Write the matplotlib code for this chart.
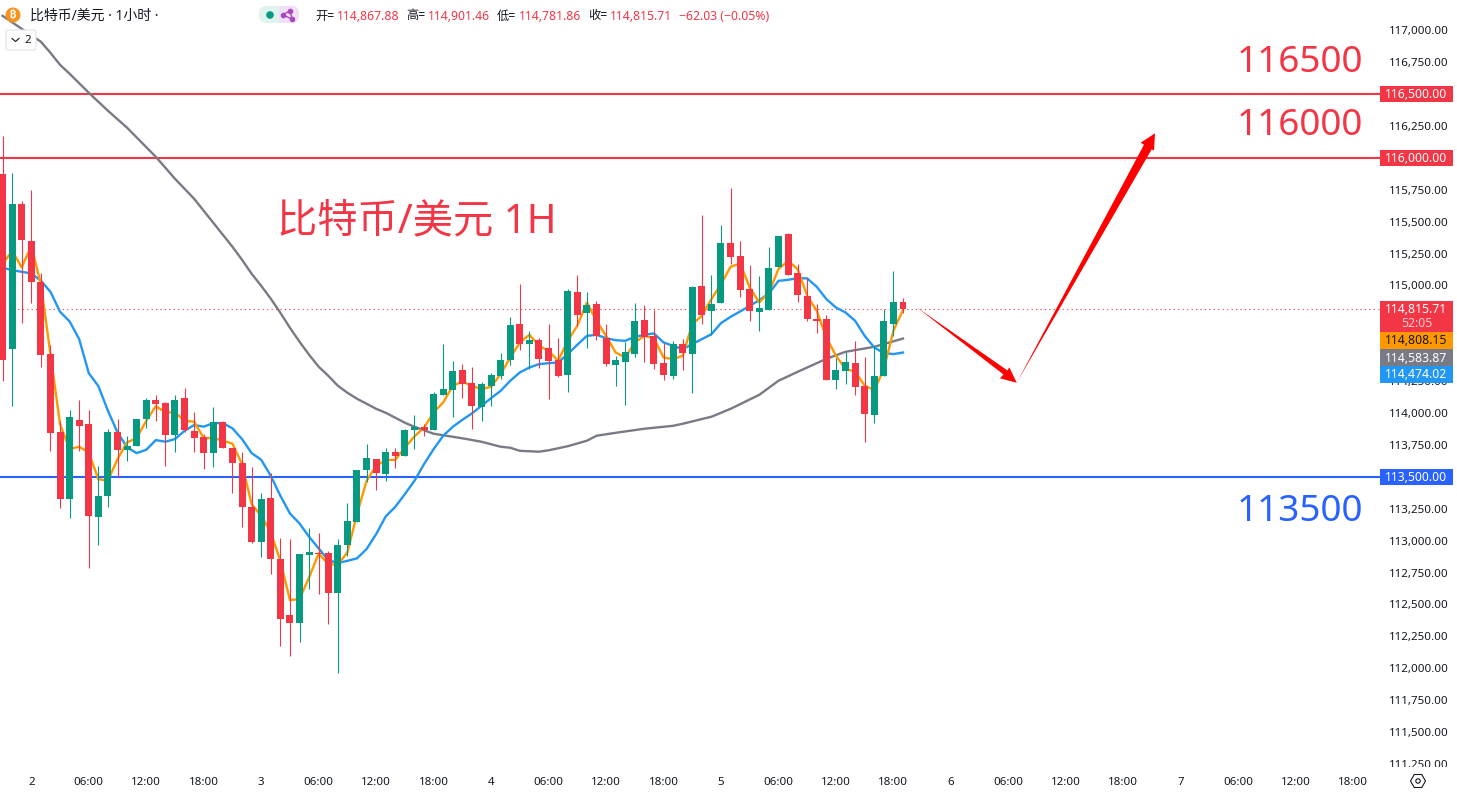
import numpy as np
import matplotlib
matplotlib.use("Agg")
import matplotlib.pyplot as plt
from matplotlib.patches import Rectangle, Polygon, Circle, FancyBboxPatch, RegularPolygon
from matplotlib.transforms import Bbox

plt.rcParams['font.family'] = ['Noto Sans', 'Noto Sans CJK SC', 'DejaVu Sans']

# hours counted from the 2nd 00:00, one candle per hour
hours = list(range(-3, 92))

opens = [115875, 114498, 115640, 115350, 115029, 114465, 113853, 113323, 113947, 113916,
         113182, 113347, 113853, 113707, 113739, 113950, 114104, 114080, 113825, 114120,
         113861, 113814, 113684, 113932, 113728, 113610, 113265, 112986, 113336, 112858,
         112419, 112351, 112889, 112905, 112905, 112586, 112962, 113143, 113550, 113642,
         113519, 113696, 113660, 113869, 113892, 113869, 114143, 114182, 114339, 114237,
         114049, 114213, 114292, 114412, 114699, 114543, 114574, 114511, 114417, 114300,
         114950, 114786, 114856, 114590, 114378, 114402, 114464, 114731, 114605, 114394,
         114292, 114543, 114464, 114997, 114801, 114864, 115334, 115232, 114974, 114793,
         114809, 115146, 115405, 115099, 114919, 114739, 114739, 114261, 114331, 114394,
         114214, 113986, 114292, 114699, 114867.88]
closes = [114412, 115640, 115353, 115024, 114451, 113840, 113323, 113971, 113895, 113190,
          113352, 113853, 113707, 113744, 113955, 114104, 114073, 113825, 114104, 113869,
          113801, 113684, 113932, 113723, 113605, 113260, 112986, 113328, 112853, 112383,
          112351, 112897, 112913, 112897, 112586, 112968, 113156, 113555, 113649, 113527,
          113696, 113660, 113869, 113892, 113869, 114151, 114190, 114331, 114229, 114057,
          114229, 114300, 114417, 114691, 114543, 114574, 114425, 114409, 114292, 114958,
          114770, 114848, 114605, 114386, 114417, 114480, 114723, 114597, 114386, 114300,
          114543, 114472, 114989, 114770, 114856, 115334, 115224, 114966, 114801, 114825,
          115138, 115389, 115083, 114927, 114739, 114723, 114261, 114339, 114402, 114206,
          113994, 114292, 114723, 114872, 114815.71]
highs = [116173, 115883, 115663, 115750, 115099, 114535, 113939, 114026, 114104, 114026,
         113587, 113874, 113953, 113822, 113955, 114120, 114143, 114088, 114143, 114198,
         114010, 113838, 114049, 113939, 113728, 113696, 113579, 113375, 113529, 113022,
         113015, 112897, 113101, 113062, 112920, 113015, 113297, 113555, 113759, 113642,
         113728, 113728, 113877, 113986, 113913, 114167, 114543, 114409, 114386, 114362,
         114245, 114315, 114472, 114754, 115013, 114644, 114590, 114699, 114590, 114974,
         115083, 114950, 114880, 114699, 114449, 114558, 114864, 114848, 114809, 114550,
         114566, 114582, 114997, 115554, 115083, 115475, 115765, 115350, 115162, 115076,
         115303, 115389, 115413, 115170, 115060, 114856, 114770, 114433, 114480, 114566,
         114441, 114527, 114817, 115115, 114901.46]
lows = [114253, 114057, 114702, 114859, 114357, 113704, 113252, 113174, 113699, 112782,
        112963, 113260, 113496, 113621, 113739, 113879, 113939, 113582, 113691, 113853,
        113697, 113558, 113574, 113723, 113370, 113103, 112978, 112874, 112735, 112171,
        112093, 112202, 112618, 112578, 112343, 111959, 112876, 113143, 113461, 113393,
        113464, 113571, 113660, 113722, 113817, 113869, 114143, 113971, 114119, 113877,
        113939, 114057, 114268, 114378, 114496, 114347, 114355, 114112, 114284, 114167,
        114684, 114511, 114574, 114370, 114213, 114065, 114441, 114402, 114347, 114261,
        114268, 114339, 114159, 114699, 114613, 114864, 115170, 114911, 114723, 114645,
        114809, 115146, 115083, 114872, 114723, 114629, 114261, 114190, 114229, 114143,
        113775, 113924, 114292, 114606, 114781.86]

ma_fast = [115167, 115272, 115141, 115311, 115010, 114462, 113913, 113718, 113736, 113691,
           113482, 113469, 113639, 113770, 113804, 113939, 114054, 114005, 114005, 113939,
           113932, 113804, 113804, 113783, 113760, 113600, 113286, 113195, 113064, 112842,
           112534, 112542, 112712, 112900, 112816, 112811, 112908, 113208, 113469, 113587,
           113631, 113634, 113730, 113817, 113885, 114005, 114083, 114213, 114247, 114213,
           114187, 114206, 114305, 114435, 114553, 114613, 114527, 114488, 114409, 114566,
           114684, 114866, 114723, 114605, 114475, 114435, 114553, 114605, 114587, 114435,
           114423, 114449, 114697, 114762, 114893, 115010, 115146, 115172, 114984, 114867,
           114945, 115128, 115193, 115128, 114919, 114801, 114592, 114449, 114344, 114326,
           114214, 114180, 114344, 114645, 114808.15]
ma_mid = [115138, 115120, 115107, 115094, 115037, 114950, 114794, 114718, 114579, 114313,
          114211, 114018, 113848, 113731, 113686, 113712, 113788, 113775, 113796, 113861,
          113906, 113893, 113921, 113921, 113880, 113796, 113686, 113634, 113508, 113352,
          113213, 113135, 113030, 112939, 112847, 112824, 112842, 112861, 112934, 113051,
          113190, 113265, 113365, 113469, 113600, 113717, 113822, 113892, 113947, 113997,
          114057, 114117, 114174, 114253, 114318, 114357, 114383, 114391, 114396, 114462,
          114535, 114605, 114613, 114587, 114571, 114566, 114597, 114613, 114624, 114553,
          114527, 114501, 114540, 114579, 114618, 114705, 114754, 114796, 114840, 114885,
          114937, 115036, 115044, 115057, 115055, 114989, 114893, 114827, 114788, 114723,
          114605, 114514, 114470, 114462, 114474.02]
ma_slow_hours = [-3, 1, 2, 3, 4, 6, 8, 10, 13, 15, 17, 19, 21, 22, 23, 24, 25, 26, 27, 28, 29,
                 30, 31, 32, 33, 34, 35, 36, 37, 38, 39, 40, 42, 45, 47, 49, 50, 51, 53, 54,
                 56, 58, 59, 61, 64, 67, 68, 71, 73, 76, 78, 80, 83, 85, 88, 91]
ma_slow = [117113, 116910, 116823, 116729, 116659, 116510, 116369, 116236, 116008, 115836,
           115679, 115491, 115303, 115201, 115092, 114997, 114896, 114786, 114668, 114559,
           114457, 114363, 114292, 114214, 114159, 114112, 114073, 114033, 114002, 113963,
           113924, 113892, 113838, 113802, 113775, 113736, 113728, 113704, 113697, 113708,
           113740, 113783, 113822, 113845, 113877, 113900, 113916, 113971, 114033, 114143,
           114253, 114323, 114425, 114480, 114519, 114583.87]

price_ticks = list(range(111250, 117001, 250))
# these labels are hidden behind the price tags in the original
hidden_ticks = [116500, 116000, 114750, 114500, 113500]
time_ticks = [0, 6, 12, 18, 24, 30, 36, 42, 48, 54, 60, 66, 72, 78, 84, 90,
              96, 102, 108, 114, 120, 126, 132, 138]
time_labels = ['2', '06:00', '12:00', '18:00', '3', '06:00', '12:00', '18:00',
               '4', '06:00', '12:00', '18:00', '5', '06:00', '12:00', '18:00',
               '6', '06:00', '12:00', '18:00', '7', '06:00', '12:00', '18:00']

RED = '#f23645'
GREEN = '#089981'
BLUE = '#2962ff'
TEXT = '#131722'

fig = plt.figure(figsize=(14.57, 7.95), dpi=100)
ax = fig.add_axes([0, 28 / 795, 1381 / 1457, 767 / 795])
ax.set_xlim(-3.267, 140.9)
ax.set_ylim(111226, 117237)
for s in ax.spines.values():
    s.set_visible(False)

# last price and the marked levels
ax.axhline(closes[-1], color=RED, lw=0.8, ls=(0, (1, 3)), zorder=1)
ax.axhline(116500, color=RED, lw=1.5, zorder=2)
ax.axhline(116000, color=RED, lw=1.5, zorder=2)
ax.axhline(113500, color=BLUE, lw=1.5, zorder=2)

# moving averages sit under the candles
ax.plot(ma_slow_hours, ma_slow, color='#787b86', lw=1.7, zorder=3)
ax.plot(hours, ma_mid, color='#2196f3', lw=1.7, zorder=3)
ax.plot(hours, ma_fast, color='#ff9800', lw=1.7, zorder=3)

# candles
colors = [GREEN if c >= o else RED for o, c in zip(opens, closes)]
ax.vlines(hours, lows, highs, colors=colors, lw=0.78, zorder=4)
body_bottom = np.minimum(opens, closes)
body_height = np.abs(np.array(opens) - np.array(closes))
ax.bar(hours, body_height, bottom=body_bottom, width=0.73, color=colors, lw=0, zorder=5)

ax.yaxis.tick_right()
ax.set_yticks(price_ticks)
ax.set_yticklabels(["" if v in hidden_ticks else f"{v:,.2f}" for v in price_ticks])
ax.set_xticks(time_ticks)
ax.set_xticklabels(time_labels)
ax.tick_params(axis='y', length=0, pad=5.8, labelsize=8.3, labelcolor=TEXT)
ax.tick_params(axis='x', length=0, pad=7.5, labelsize=8.3, labelcolor=TEXT)
# bottom price label is cut off by the time axis
for lab in ax.get_yticklabels():
    lab.set_clip_box(Bbox.from_extents(0, 28, 1457, 795))
    lab.set_clip_on(True)

# overlay in pixels for header, tags and drawings
ov = fig.add_axes([0, 0, 1, 1], facecolor='none')
ov.set_xlim(0, 1457)
ov.set_ylim(795, 0)
ov.axis('off')

# big notes
ov.text(277, 222, '比特币/美元 1H', color=RED, fontsize=29, va='center', ha='left')
ov.text(1363, 63, '116500', color=RED, fontsize=26.5, va='center', ha='right')
ov.text(1363, 126, '116000', color=RED, fontsize=26.5, va='center', ha='right')
ov.text(1363, 512, '113500', color=BLUE, fontsize=26.5, va='center', ha='right')

# arrows
ov.add_patch(Polygon([(916.7, 307.3), (1007.5, 370.5), (1009.3, 367.3), (1016.7, 382.7),
                      (1000, 378.3), (1003.5, 374.5)], closed=True, fc='#ff0000', ec='none'))
ov.add_patch(Polygon([(1016.7, 382.7), (1144, 144.7), (1140.7, 142.7), (1155, 133.3),
                      (1154, 150.7), (1151.7, 149.3)], closed=True, fc='#ff0000', ec='none'))


def tag(y0, y1, color, lines, txt='white'):
    ov.add_patch(Rectangle((1380, y0), 73, y1 - y0, fc=color, ec='none', zorder=6))
    for y, s, alpha in lines:
        ov.text(1416.5, y, s, color=txt, alpha=alpha, fontsize=8.8, ha='center', va='center',
                fontweight='bold', zorder=7)


tag(86, 102, RED, [(94.5, '116,500.00', 1)])
tag(150, 166, RED, [(158.5, '116,000.00', 1)])
tag(469, 485, BLUE, [(477.5, '113,500.00', 1)])
tag(301, 332, RED, [(309.5, '114,815.71', 1), (323.5, '52:05', 0.75)])
tag(332, 349, '#ff9800', [(341, '114,808.15', 1)], TEXT)
tag(349, 366, '#787b86', [(358, '114,583.87', 1)])
tag(366, 383, '#2196f3', [(374.5, '114,474.02', 1)])

# header
ov.add_patch(Circle((13, 15), 7.5, fc='#f7931a', ec='none'))
ov.text(13, 15.5, '₿', color='white', fontsize=7, ha='center', va='center',
        family=['Inter', 'Roboto', 'Open Sans', 'Lato', 'Liberation Sans', 'DejaVu Sans', 'Noto Sans'],
        fontweight='bold')
ov.text(30, 16, '比特币/美元 · 1小时 ·', color=TEXT, fontsize=10, ha='left', va='center')

ov.add_patch(Rectangle((279, 6), 12, 17, fc='#f1dff6', ec='none'))
ov.add_patch(FancyBboxPatch((285, 6), 14, 17, boxstyle='round,pad=0,rounding_size=7',
                            fc='#f1dff6', ec='none'))
ov.add_patch(FancyBboxPatch((259, 6), 20, 17, boxstyle='round,pad=0,rounding_size=7',
                            fc='#dff3ef', ec='none'))
ov.add_patch(Rectangle((272, 6), 7, 17, fc='#dff3ef', ec='none'))
ov.add_patch(Circle((270, 15), 3.8, fc=GREEN, ec='none'))
ov.plot([283, 290, 292, 283], [15, 10.5, 19, 15], color='#ab47bc', lw=1)
ov.plot([283, 290, 292], [15, 10.5, 19], 'o', color='#ab47bc', ms=3)

for x, s in [(315, '开='), (406, '高='), (497, '低='), (588, '收=')]:
    ov.text(x, 16, s, color=TEXT, fontsize=8.8, ha='left', va='center')
for x, s in [(337, '114,867.88'), (427.5, '114,901.46'), (519, '114,781.86'),
             (609.5, '114,815.71'), (679, '−62.03 (−0.05%)')]:
    ov.text(x, 16, s, color=RED, fontsize=8.8, ha='left', va='center')

# collapsed indicators button
ov.add_patch(FancyBboxPatch((6, 30), 30, 20, boxstyle='round,pad=0,rounding_size=2',
                            fc='white', ec='#e0e3eb', lw=0.8))
ov.plot([12, 15.5, 19], [38.5, 41.5, 38.5], color=TEXT, lw=0.8)
ov.text(28, 40.5, '2', color=TEXT, fontsize=8.3, ha='center', va='center')

# settings icon
ov.add_patch(RegularPolygon((1418, 781), 6, radius=7.5, orientation=np.pi / 6, fc='none',
                            ec=TEXT, lw=0.8))
ov.add_patch(Circle((1418, 781), 2.2, fc='none', ec=TEXT, lw=0.8))

fig.savefig('out.png', dpi=100, facecolor='white')
